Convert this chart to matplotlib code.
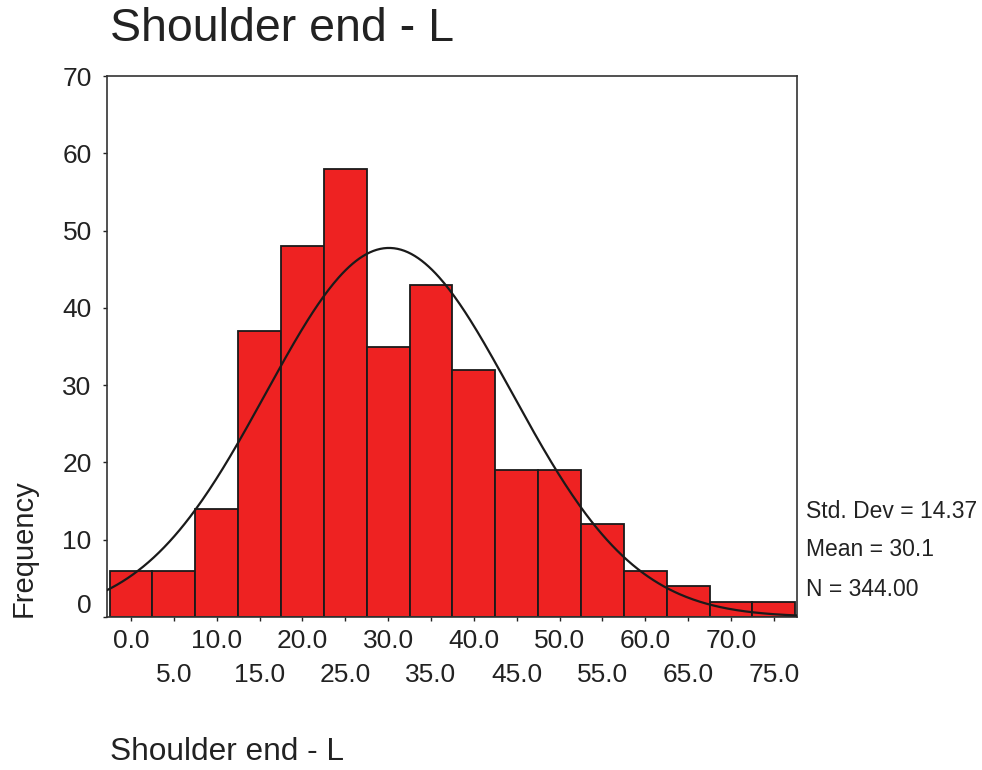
import numpy as np
import matplotlib
matplotlib.use("Agg")
import matplotlib.pyplot as plt
import matplotlib.transforms as mtransforms

# ---- data ----
bin_centers = [0, 5, 10, 15, 20, 25, 30, 35, 40, 45, 50, 55, 60, 65, 70, 75]
counts = [6, 6, 14, 37, 48, 58, 35, 43, 32, 19, 19, 12, 6, 4, 2, 2]
bin_width = 5
std_dev = 14.37
mean_val = 30.1
n_total = 344
major_ticks = [0, 10, 20, 30, 40, 50, 60, 70]
minor_ticks = [5, 15, 25, 35, 45, 55, 65, 75]
y_ticks = [0, 10, 20, 30, 40, 50, 60, 70]
title = "Shoulder end - L"
x_label = "Shoulder end - L"
y_label = "Frequency"

plt.rcParams['font.family'] = ['Liberation Sans', 'DejaVu Sans']
txt = '#222222'

fig = plt.figure(figsize=(9.82, 7.70), dpi=100)
ax = fig.add_axes([107/982, 1 - 617/770, 690/982, 541/770])

ax.bar(bin_centers, counts, width=bin_width, color='#ee2222',
       edgecolor='#1a1a1a', linewidth=1.3, zorder=2)

# fitted normal curve from the reported statistics
xs = np.linspace(-2.8, 77.7, 400)
ys = n_total * bin_width / (std_dev * np.sqrt(2 * np.pi)) * np.exp(-0.5 * ((xs - mean_val) / std_dev) ** 2)
ax.plot(xs, ys, color='#1a1a1a', linewidth=1.6, zorder=3)

ax.set_xlim(-2.8, 77.7)
ax.set_ylim(0, 70)

ax.set_xticks(major_ticks)
ax.set_xticklabels([f"{v:.1f}" for v in major_ticks])
ax.set_xticks(minor_ticks, minor=True)
ax.set_xticklabels([f"{v:.1f}" for v in minor_ticks], minor=True)
ax.tick_params(axis='x', which='major', length=3, width=1, pad=6, labelsize=19, colors=txt, direction='out')
ax.tick_params(axis='x', which='minor', length=3, width=1, pad=30, labelsize=19, colors=txt, direction='out')

ax.set_yticks(y_ticks)
ax.set_yticklabels([str(v) for v in y_ticks])
ax.tick_params(axis='y', length=3, width=1, pad=8, labelsize=19, colors=txt, direction='out')

# the "0" label sits slightly above the baseline in the reference
zero_lbl = ax.get_yticklabels()[0]
zero_lbl.set_transform(zero_lbl.get_transform() + mtransforms.ScaledTranslation(0, 10/72, fig.dpi_scale_trans))

for s in ax.spines.values():
    s.set_color('#333333')
    s.set_linewidth(1.2)

fig.text(110/982, 1 - 29/770, title, fontsize=33.5, color=txt, ha='left', va='center')
fig.text(110/982, 1 - 752/770, x_label, fontsize=22.8, color=txt, ha='left', va='center')
fig.text(24/982, 1 - 548/770, y_label, fontsize=21, color=txt, rotation=90, ha='center', va='center')

stats = [f"Std. Dev = {std_dev:.2f}", f"Mean = {mean_val:.1f}", f"N = {n_total:.2f}"]
for i, s in enumerate(stats):
    fig.text(806/982, 1 - (511 + 39 * i)/770, s, fontsize=16.5, color=txt, ha='left', va='center')

fig.savefig("out.png", dpi=100)
